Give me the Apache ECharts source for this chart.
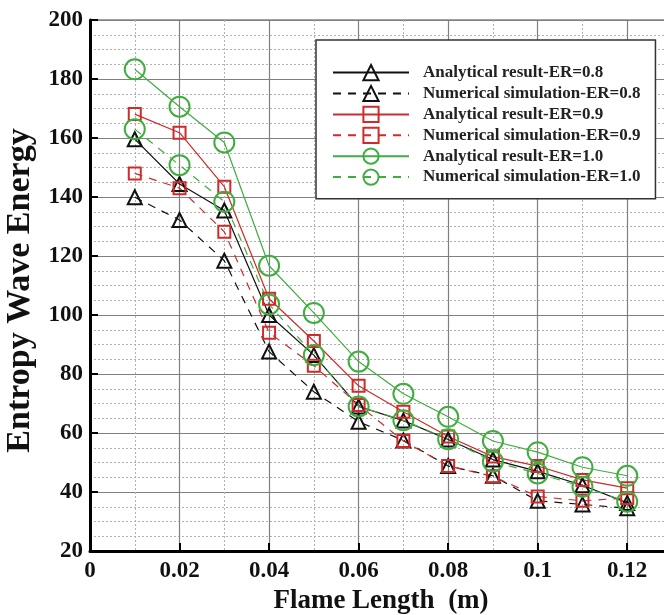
<!DOCTYPE html>
<html>
<head>
<meta charset="utf-8">
<script src="https://cdn.jsdelivr.net/npm/echarts@6/dist/echarts.min.js"></script>
<style>html,body{margin:0;padding:0;background:#fff}#c{width:664px;height:615px}</style>
</head>
<body>
<div id="c"></div>
<script>
var flameLength = [0.01, 0.02, 0.03, 0.04, 0.05, 0.06, 0.07, 0.08, 0.09, 0.10, 0.11, 0.12];
var analyticalER08 = [159.6, 144.4, 135.4, 100.0, 86.4, 69.0, 64.2, 57.8, 51.0, 47.0, 42.3, 36.3];
var numericalER08  = [139.9, 132.2, 118.4, 87.6, 74.0, 63.8, 57.5, 48.8, 45.5, 37.0, 35.8, 34.5];
var analyticalER09 = [168.1, 161.8, 143.5, 105.5, 91.2, 76.0, 67.2, 58.8, 52.0, 48.8, 44.1, 41.3];
var numericalER09  = [148.0, 143.0, 128.2, 94.0, 82.8, 69.5, 57.3, 48.8, 45.3, 38.5, 37.0, 38.0];
var analyticalER10 = [183.3, 170.6, 158.5, 116.7, 100.7, 84.2, 73.3, 65.5, 57.3, 53.5, 48.4, 45.5];
var numericalER10  = [163.0, 150.8, 138.4, 103.6, 86.4, 69.0, 64.3, 57.9, 50.3, 46.3, 41.8, 36.7];
var seriesNames = [
  'Analytical result-ER=0.8', 'Numerical simulation-ER=0.8',
  'Analytical result-ER=0.9', 'Numerical simulation-ER=0.9',
  'Analytical result-ER=1.0', 'Numerical simulation-ER=1.0'
];
var xAxisTitle = 'Flame Length  (m)';
var yAxisTitle = 'Entropy Wave Energy';

function pairs(ys) { return flameLength.map(function (x, i) { return [x, ys[i]]; }); }

var FONT = '"Liberation Serif", "Times New Roman", serif';
var BLACK = '#111111', RED = '#d02a2a', GREEN = '#3fae3f';

function mk(name, ys, color, symbol, size, dashed) {
  return {
    name: name, type: 'line', data: pairs(ys),
    symbol: symbol, symbolSize: size,
    itemStyle: { color: 'transparent', borderColor: color, borderWidth: 2 },
    lineStyle: { color: color, width: 1.2, type: dashed ? [8, 7] : 'solid' },
    emphasis: { disabled: true }, animation: false, clip: false
  };
}

var chart = echarts.init(document.getElementById('c'), null, { renderer: 'canvas' });
chart.setOption({
  animation: false,
  backgroundColor: '#fff',
  grid: { left: 90, top: 20, right: -8, bottom: 64, show: true, borderColor: '#444', borderWidth: 1,
          containLabel: false, outerBoundsMode: 'none' },
  xAxis: {
    type: 'value', min: 0, max: 0.13, interval: 0.02,
    name: xAxisTitle, nameLocation: 'middle', nameGap: 35,
    nameTextStyle: { fontFamily: FONT, fontWeight: 'bold', fontSize: 27, color: '#111' },
    axisLine: { show: true, onZero: false, lineStyle: { color: '#000', width: 3 } },
    axisTick: { show: true, inside: true, length: 8, lineStyle: { color: '#000', width: 2 } },
    axisLabel: { fontFamily: FONT, fontWeight: 'bold', fontSize: 23, color: '#111', margin: 9, showMaxLabel: false },
    splitLine: { show: true, lineStyle: { color: '#808080', width: 1.2 } },
    minorTick: { show: false, splitNumber: 2 },
    minorSplitLine: { show: true, lineStyle: { color: '#b0b0b0', width: 1, type: [2, 2] } }
  },
  yAxis: {
    type: 'value', min: 20, max: 200, interval: 20,
    name: yAxisTitle, nameLocation: 'middle', nameGap: 50,
    nameTextStyle: { fontFamily: FONT, fontWeight: 'bold', fontSize: 34, color: '#111', padding: [0, 10, 0, 0] },
    axisLine: { show: true, lineStyle: { color: '#000', width: 3 } },
    axisTick: { show: true, inside: true, length: 8, lineStyle: { color: '#000', width: 2 } },
    axisLabel: { fontFamily: FONT, fontWeight: 'bold', fontSize: 23, color: '#111', margin: 7 },
    splitLine: { show: true, lineStyle: { color: '#808080', width: 1.2 } },
    minorTick: { show: false, splitNumber: 4 },
    minorSplitLine: { show: true, lineStyle: { color: '#b0b0b0', width: 1, type: [2, 2] } }
  },
  legend: {
    orient: 'vertical', left: 316, top: 40,
    data: seriesNames,
    itemWidth: 76, itemHeight: 19, itemGap: 3.7,
    padding: [24, 15, 13, 16],
    backgroundColor: '#fff', borderColor: '#333', borderWidth: 1.5,
    textStyle: { fontFamily: FONT, fontWeight: 'bold', fontSize: 17, color: '#222', padding: [0, 0, 0, 9] },
    selectedMode: false, z: 20
  },
  series: [
    mk(seriesNames[0], analyticalER08, BLACK, 'triangle', 14, false),
    mk(seriesNames[1], numericalER08, BLACK, 'triangle', 14, true),
    mk(seriesNames[2], analyticalER09, RED, 'rect', 12, false),
    mk(seriesNames[3], numericalER09, RED, 'rect', 12, true),
    mk(seriesNames[4], analyticalER10, GREEN, 'circle', 20, false),
    mk(seriesNames[5], numericalER10, GREEN, 'circle', 20, true)
  ]
});
</script>
</body>
</html>
